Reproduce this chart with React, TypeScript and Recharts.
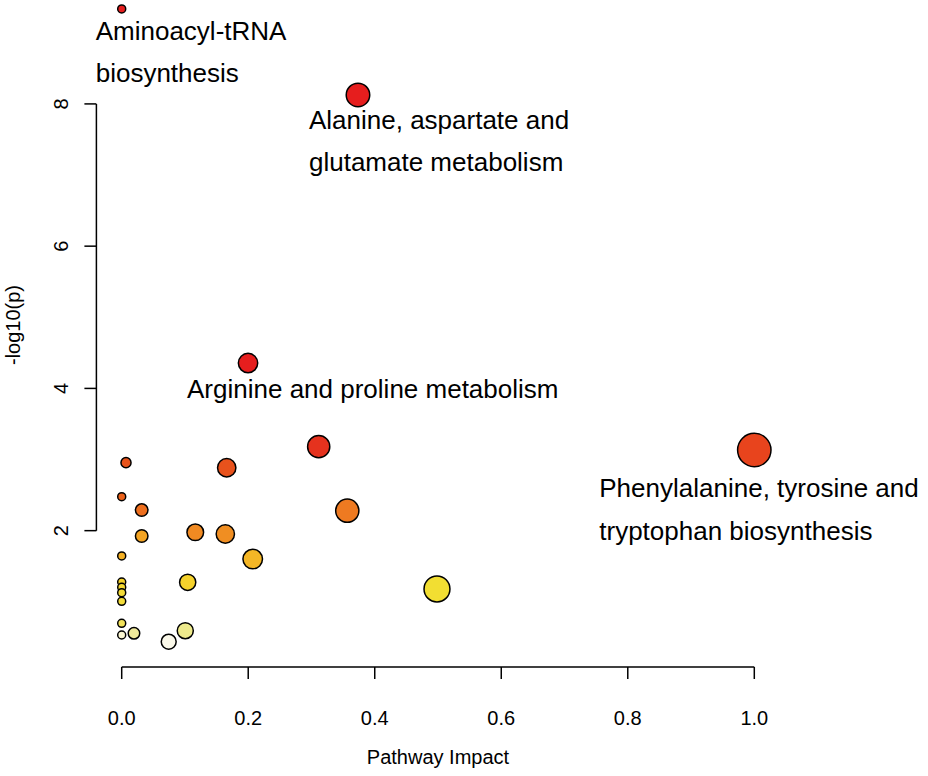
import { Label, ReferenceLine, Scatter, ScatterChart, XAxis, YAxis } from 'recharts';

// pathway impact (x) and -log10(p) (y), ordered from most to least significant
const impact = [
  0.0, 0.3735, 0.1997, 0.3114, 1.0, 0.0068, 0.166, 0.0, 0.0316, 0.3566, 0.1163, 0.1638, 0.0316,
  0.0, 0.2071, 0.0, 0.1043, 0.0, 0.4984, 0.0, 0.0, 0.0, 0.1005, 0.0194, 0.0, 0.0743,
];
const negLogP = [
  9.335, 8.126, 4.357, 3.181, 3.134, 2.956, 2.885, 2.478, 2.29, 2.281, 1.977, 1.953, 1.925,
  1.644, 1.601, 1.278, 1.274, 1.204, 1.18, 1.128, 1.007, 0.697, 0.593, 0.557, 0.533, 0.439,
];
const pathwayLabels: string[][] = [
  ['Aminoacyl-tRNA', 'biosynthesis'],
  ['Alanine, aspartate and', 'glutamate metabolism'],
  ['Arginine and proline metabolism'],
  [],
  ['Phenylalanine, tyrosine and', 'tryptophan biosynthesis'],
];
const xTicks = [0, 0.2, 0.4, 0.6, 0.8, 1.0];
const yTicks = [2, 4, 6, 8];

// styling (heat colours by significance) and label placement
const fills = [
  '#E61E1E', '#E61E1E', '#E61E1E', '#E5321E', '#E8441D', '#E8531B', '#E8521C', '#EC621A',
  '#EE6F1E', '#EE7A21', '#F08A22', '#F08E22', '#F4A423', '#F4B024', '#F4B626', '#F4D22A',
  '#F5D22C', '#F4D832', '#F2DE32', '#F4DC38', '#F2DC3A', '#F2E25A', '#EEEA8C', '#F0EA9A',
  '#FAF6D2', '#FBF9EA',
];
const labelOffsets: Record<number, { dx: number; dy: number }> = {
  0: { dx: -26, dy: 31 },
  1: { dx: -49, dy: 34 },
  2: { dx: -61, dy: 35 },
  4: { dx: -155, dy: 47 },
};

const X_DOMAIN: [number, number] = [-0.04, 1.04];
const Y_DOMAIN: [number, number] = [0.083, 9.461];
const FONT = '"Liberation Sans", Arial, Helvetica, sans-serif';

const points = impact.map((x, i) => ({
  impact: x,
  logp: negLogP[i],
  fill: fills[i],
  lines: pathwayLabels[i] ?? [],
  offset: labelOffsets[i],
}));

function Bubble(props: any) {
  const { cx, cy, payload } = props;
  const r = 4 + 12.7 * Math.sqrt(payload.impact);
  return (
    <g>
      <circle cx={cx} cy={cy} r={r} fill={payload.fill} stroke="#000" strokeWidth={1.5} />
      {payload.lines.map((line: string, k: number) => (
        <text
          key={k}
          x={cx + payload.offset.dx}
          y={cy + payload.offset.dy + k * 42.5}
          fontSize={26}
          fontFamily={FONT}
          fill="#000"
        >
          {line}
        </text>
      ))}
    </g>
  );
}

function XTick({ x, y, payload }: any) {
  return (
    <text x={x} y={y + 46} textAnchor="middle" fontSize={20} fontFamily={FONT} fill="#000">
      {Number(payload.value).toFixed(1)}
    </text>
  );
}

function YTick({ x, y, payload }: any) {
  const bx = x - 16;
  return (
    <text
      x={bx}
      y={y}
      transform={`rotate(-90 ${bx} ${y})`}
      textAnchor="middle"
      fontSize={20}
      fontFamily={FONT}
      fill="#000"
    >
      {payload.value}
    </text>
  );
}

export default function App() {
  return (
    <div style={{ position: 'absolute', left: 0, top: 0, background: '#fff' }}>
      <ScatterChart width={928} height={776} margin={{ top: 0, right: 148.4, bottom: 0, left: 0 }}>
        <XAxis
          type="number"
          dataKey="impact"
          domain={X_DOMAIN}
          ticks={xTicks}
          height={109}
          axisLine={false}
          tickLine={{ stroke: '#000', strokeWidth: 1.5 }}
          tickSize={12}
          tickMargin={0}
          tick={<XTick />}
        >
          <Label
            value="Pathway Impact"
            position="insideBottom"
            offset={12}
            fontSize={20}
            fontFamily={FONT}
            fill="#000"
          />
        </XAxis>
        <YAxis
          type="number"
          dataKey="logp"
          domain={Y_DOMAIN}
          ticks={yTicks}
          width={96.4}
          axisLine={false}
          tickLine={{ stroke: '#000', strokeWidth: 1.5 }}
          tickSize={12}
          tickMargin={0}
          tick={<YTick />}
        >
          <Label
            content={() => (
              <text
                x={20}
                y={325}
                transform="rotate(-90 20 325)"
                textAnchor="middle"
                fontSize={20}
                fontFamily={FONT}
                fill="#000"
              >
                -log10(p)
              </text>
            )}
          />
        </YAxis>
        <ReferenceLine
          segment={[
            { x: 0, y: Y_DOMAIN[0] },
            { x: 1, y: Y_DOMAIN[0] },
          ]}
          stroke="#000"
          strokeWidth={1.5}
          ifOverflow="visible"
        />
        <ReferenceLine
          segment={[
            { x: X_DOMAIN[0], y: 2 },
            { x: X_DOMAIN[0], y: 8 },
          ]}
          stroke="#000"
          strokeWidth={1.5}
          ifOverflow="visible"
        />
        <Scatter data={points} shape={<Bubble />} isAnimationActive={false} />
      </ScatterChart>
    </div>
  );
}
